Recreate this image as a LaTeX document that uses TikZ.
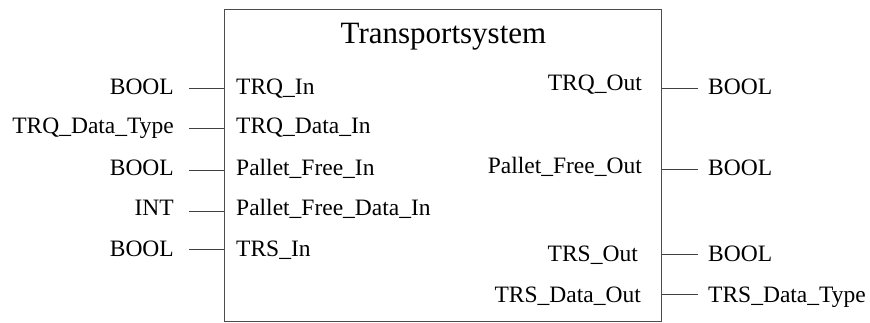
\documentclass[tikz,border=0pt]{standalone}
\usepackage{fontspec}
\setmainfont{Liberation Serif}
\begin{document}
\begin{tikzpicture}[x=1pt,y=1pt,
  lbl/.style={inner sep=0pt, font=\fontsize{23.5}{28}\selectfont},
  ttl/.style={inner sep=0pt, font=\fontsize{31}{36}\selectfont},
  wire/.style={draw=black!75, line width=1pt},
  fbbox/.style={draw=black!70, line width=1.1pt, inner sep=0pt}]
\useasboundingbox (0,0) rectangle (870,-322);

% function block body
\node[fbbox, anchor=north west, minimum width=437pt, minimum height=312pt] (fb) at (224,-9) {};
\node[ttl, anchor=base] (title) at (443.5,-43) {Transportsystem};

% inputs: data types outside, pin names inside
\node[lbl, anchor=base east] (tIn1) at (174,-94)  {BOOL};
\node[lbl, anchor=base east] (tIn2) at (174,-133) {TRQ\_Data\_Type};
\node[lbl, anchor=base east] (tIn3) at (174,-175) {BOOL};
\node[lbl, anchor=base east] (tIn4) at (174,-215) {INT};
\node[lbl, anchor=base east] (tIn5) at (174,-256) {BOOL};

\node[lbl, anchor=base west] (pIn1) at (236,-94)  {TRQ\_In};
\node[lbl, anchor=base west] (pIn2) at (236,-133) {TRQ\_Data\_In};
\node[lbl, anchor=base west] (pIn3) at (236,-175) {Pallet\_Free\_In};
\node[lbl, anchor=base west] (pIn4) at (236,-215) {Pallet\_Free\_Data\_In};
\node[lbl, anchor=base west] (pIn5) at (236,-256) {TRS\_In};

\coordinate (wIn1) at (189,-88);
\coordinate (wIn2) at (189,-128);
\coordinate (wIn3) at (189,-170);
\coordinate (wIn4) at (189,-211);
\coordinate (wIn5) at (189,-249);
\foreach \i in {1,...,5}
  \draw[wire] (wIn\i) -- (wIn\i -| fb.west);

% outputs: pin names inside, data types outside
\node[lbl, anchor=base east] (pOut1) at (642,-90)  {TRQ\_Out};
\node[lbl, anchor=base east] (pOut2) at (642,-173) {Pallet\_Free\_Out};
\node[lbl, anchor=base east] (pOut3) at (638,-261) {TRS\_Out};
\node[lbl, anchor=base east] (pOut4) at (641,-302) {TRS\_Data\_Out};

\node[lbl, anchor=base west] (tOut1) at (708,-94)  {BOOL};
\node[lbl, anchor=base west] (tOut2) at (708,-175) {BOOL};
\node[lbl, anchor=base west] (tOut3) at (708,-261) {BOOL};
\node[lbl, anchor=base west] (tOut4) at (708,-302) {TRS\_Data\_Type};

\coordinate (wOut1) at (698,-88);
\coordinate (wOut2) at (698,-169);
\coordinate (wOut3) at (698,-254);
\coordinate (wOut4) at (698,-294);
\foreach \i in {1,...,4}
  \draw[wire] (wOut\i -| fb.east) -- (wOut\i);
\end{tikzpicture}
\end{document}
